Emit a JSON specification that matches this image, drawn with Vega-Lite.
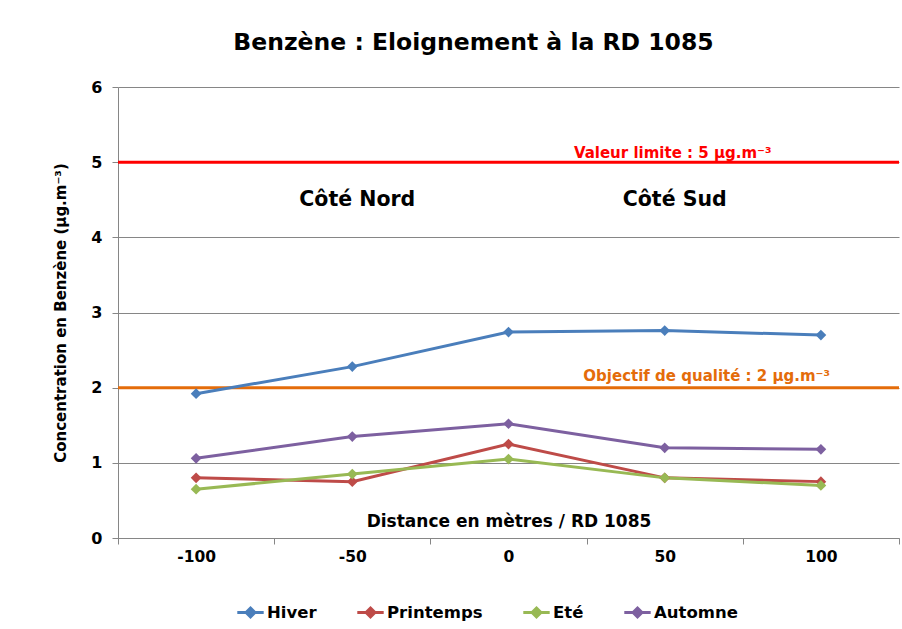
{
  "$schema": "https://vega.github.io/schema/vega-lite/v6.json",
  "autosize": "none",
  "width": 781,
  "height": 451,
  "padding": {"left": 118, "top": 87, "right": 3, "bottom": 91},
  "background": "white",
  "config": {
    "font": "DejaVu Sans",
    "view": {"stroke": null},
    "axis": {"labelFont": "DejaVu Sans", "titleFont": "DejaVu Sans", "labelFontWeight": "bold", "titleFontWeight": "bold", "labelColor": "black", "titleColor": "black", "domainColor": "#868686", "tickColor": "#868686", "gridColor": "#868686"}
  },
  "title": {"text": "Benzène : Eloignement à la RD 1085", "fontSize": 23.5, "fontWeight": "bold", "font": "DejaVu Sans", "color": "black", "anchor": "middle", "offset": 25, "dx": -35},
  "datasets": {
    "series": [
      {"distance": "-100", "saison": "Hiver", "valeur": 1.92},
      {"distance": "-50", "saison": "Hiver", "valeur": 2.28},
      {"distance": "0", "saison": "Hiver", "valeur": 2.74},
      {"distance": "50", "saison": "Hiver", "valeur": 2.76},
      {"distance": "100", "saison": "Hiver", "valeur": 2.70},
      {"distance": "-100", "saison": "Printemps", "valeur": 0.80},
      {"distance": "-50", "saison": "Printemps", "valeur": 0.75},
      {"distance": "0", "saison": "Printemps", "valeur": 1.25},
      {"distance": "50", "saison": "Printemps", "valeur": 0.80},
      {"distance": "100", "saison": "Printemps", "valeur": 0.75},
      {"distance": "-100", "saison": "Eté", "valeur": 0.65},
      {"distance": "-50", "saison": "Eté", "valeur": 0.85},
      {"distance": "0", "saison": "Eté", "valeur": 1.05},
      {"distance": "50", "saison": "Eté", "valeur": 0.80},
      {"distance": "100", "saison": "Eté", "valeur": 0.70},
      {"distance": "-100", "saison": "Automne", "valeur": 1.06},
      {"distance": "-50", "saison": "Automne", "valeur": 1.35},
      {"distance": "0", "saison": "Automne", "valeur": 1.52},
      {"distance": "50", "saison": "Automne", "valeur": 1.20},
      {"distance": "100", "saison": "Automne", "valeur": 1.18}
    ],
    "limite": [{"valeur": 5}],
    "objectif": [{"valeur": 2}],
    "nord": [{"distance": "-50", "valeur": 4.5, "texte": "Côté Nord"}],
    "sud": [{"distance": "50", "valeur": 4.5, "texte": "Côté Sud"}],
    "limiteLabel": [{"distance": "50", "valeur": 5.12, "texte": "Valeur limite : 5 µg.m⁻³"}],
    "objectifLabel": [{"distance": "50", "valeur": 2.16, "texte": "Objectif de qualité : 2 µg.m⁻³"}]
  },
  "layer": [
    {
      "data": {"name": "limite"},
      "mark": {"type": "rule", "strokeWidth": 3, "color": "#FF0000"},
      "encoding": {"y": {"field": "valeur", "type": "quantitative"}}
    },
    {
      "data": {"name": "objectif"},
      "mark": {"type": "rule", "strokeWidth": 3, "color": "#E46C0A"},
      "encoding": {"y": {"field": "valeur", "type": "quantitative"}}
    },
    {
      "data": {"name": "nord"},
      "mark": {"type": "text", "fontSize": 20.5, "fontWeight": "bold", "font": "DejaVu Sans", "color": "black", "align": "center", "baseline": "middle", "dx": 5},
      "encoding": {
        "x": {"field": "distance", "type": "ordinal", "sort": ["-100", "-50", "0", "50", "100"]},
        "y": {"field": "valeur", "type": "quantitative"},
        "text": {"field": "texte"}
      }
    },
    {
      "data": {"name": "sud"},
      "mark": {"type": "text", "fontSize": 20.5, "fontWeight": "bold", "font": "DejaVu Sans", "color": "black", "align": "center", "baseline": "middle", "dx": 10},
      "encoding": {
        "x": {"field": "distance", "type": "ordinal", "sort": ["-100", "-50", "0", "50", "100"]},
        "y": {"field": "valeur", "type": "quantitative"},
        "text": {"field": "texte"}
      }
    },
    {
      "data": {"name": "limiteLabel"},
      "mark": {"type": "text", "fontSize": 15, "fontWeight": "bold", "font": "DejaVu Sans", "color": "#FF0000", "align": "center", "baseline": "middle", "dx": 8},
      "encoding": {
        "x": {"field": "distance", "type": "ordinal", "sort": ["-100", "-50", "0", "50", "100"]},
        "y": {"field": "valeur", "type": "quantitative"},
        "text": {"field": "texte"}
      }
    },
    {
      "data": {"name": "objectifLabel"},
      "mark": {"type": "text", "fontSize": 15, "fontWeight": "bold", "font": "DejaVu Sans", "color": "#E46C0A", "align": "center", "baseline": "middle", "dx": 42},
      "encoding": {
        "x": {"field": "distance", "type": "ordinal", "sort": ["-100", "-50", "0", "50", "100"]},
        "y": {"field": "valeur", "type": "quantitative"},
        "text": {"field": "texte"}
      }
    },
    {
      "data": {"name": "series"},
      "layer": [
        {"mark": {"type": "line", "strokeWidth": 3}},
        {"mark": {"type": "point", "shape": "diamond", "filled": true, "size": 115, "opacity": 1}}
      ],
      "encoding": {
        "x": {
          "field": "distance", "type": "ordinal",
          "sort": ["-100", "-50", "0", "50", "100"],
          "scale": {"type": "band", "paddingInner": 0, "paddingOuter": 0},
          "axis": {"title": "Distance en mètres / RD 1085", "titleFontSize": 17, "titleY": -17, "titleBaseline": "middle", "labelFontSize": 15.5, "labelAngle": 0, "labelAlign": "center", "labelPadding": 12, "tickBand": "extent", "tickSize": 6, "grid": false}
        },
        "y": {
          "field": "valeur", "type": "quantitative",
          "scale": {"domain": [0, 6]},
          "axis": {"title": "Concentration en Benzène (µg.m⁻³)", "titleFontSize": 15, "titlePadding": 22, "labelFontSize": 16, "labelPadding": 10, "format": "d", "values": [0, 1, 2, 3, 4, 5, 6], "tickSize": 6, "grid": true}
        },
        "color": {
          "field": "saison", "type": "nominal",
          "scale": {"domain": ["Hiver", "Printemps", "Eté", "Automne"], "range": ["#4A7EBB", "#BE4B48", "#98B954", "#7D60A0"]},
          "legend": {"title": null, "orient": "none", "legendX": 120, "legendY": 513, "direction": "horizontal", "labelFontSize": 16.5, "labelFontWeight": "bold", "labelColor": "black", "labelFont": "DejaVu Sans", "symbolType": "M-1.2,0L1.2,0M0,-0.4L0.4,0L0,0.4L-0.4,0Z", "symbolSize": 484, "symbolStrokeWidth": 3, "columnPadding": 34, "labelOffset": 4,
            "encode": {"symbols": {"update": {"fill": {"scale": "color", "field": "value"}, "stroke": {"scale": "color", "field": "value"}, "opacity": {"value": 1}}}}}
        }
      }
    }
  ]
}
